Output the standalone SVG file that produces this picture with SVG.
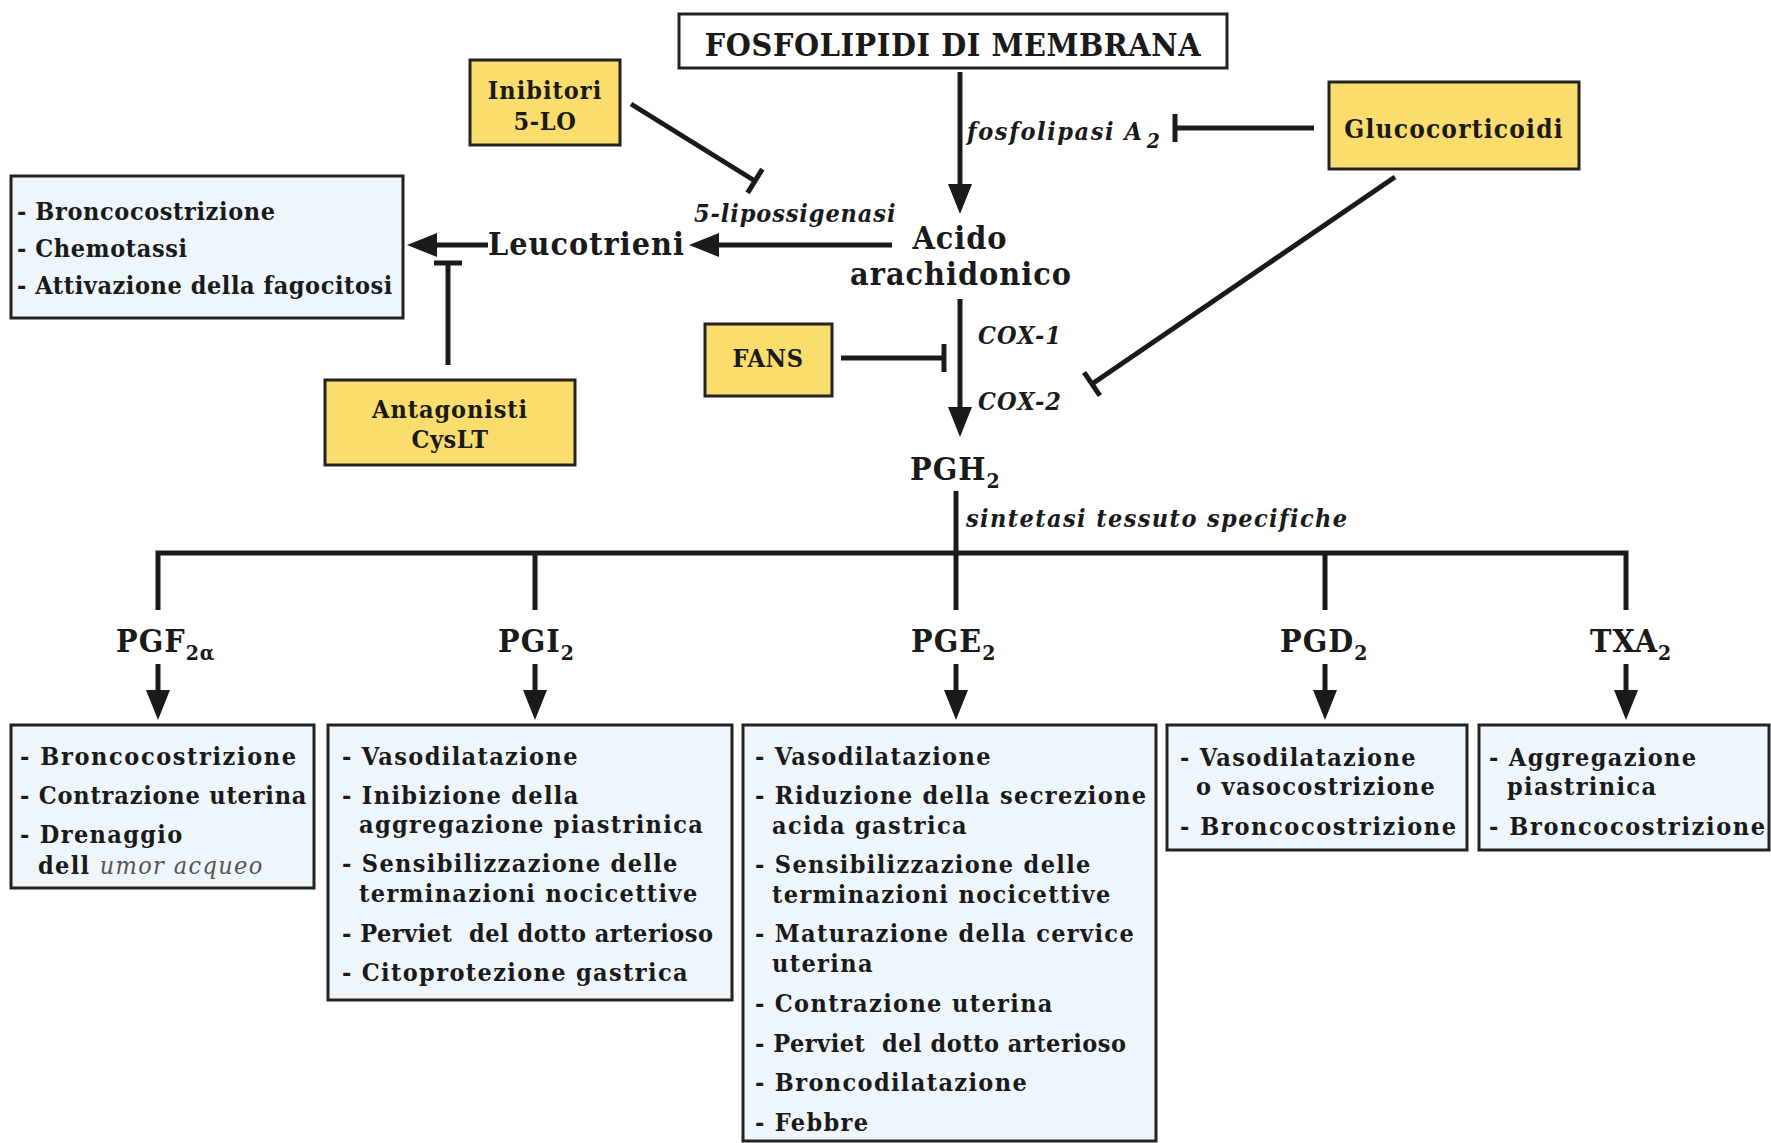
<svg xmlns="http://www.w3.org/2000/svg" width="1771" height="1143" viewBox="0 0 1771 1143">
<style>
.bx{fill:#eef6fb;stroke:#222;stroke-width:3}
.yb{fill:#fadd6c;stroke:#222;stroke-width:3}
.wb{fill:#fff;stroke:#222;stroke-width:3}
text{font-family:"DejaVu Serif Condensed","DejaVu Serif","Liberation Serif",serif;font-weight:bold;fill:#1a1a1a}
.it{font-size:25px;letter-spacing:1.35px}
.big{font-size:32px;letter-spacing:1px}
.nm{font-size:25px;letter-spacing:0.6px}
.lab{font-style:italic;font-size:25px;letter-spacing:1.1px}
.sub{font-size:21px}
.um{font-style:italic;font-weight:normal;fill:#555}
.pv{letter-spacing:0.5px}
.c{stroke:#1a1a1a;stroke-width:5;fill:none}
</style>
<defs>
<marker id="ar" markerUnits="userSpaceOnUse" viewBox="0 -12 30 24" markerWidth="30" markerHeight="24" refX="1" refY="0" orient="auto"><path d="M0,-12 L30,0 L0,12 z" fill="#1a1a1a"/></marker>
<marker id="tee" markerUnits="userSpaceOnUse" viewBox="-5 -17 10 34" markerWidth="10" markerHeight="34" refX="0" refY="0" orient="auto"><rect x="-2.5" y="-14" width="5" height="28" fill="#1a1a1a"/></marker>
</defs>
<rect width="1771" height="1143" fill="#fff"/>

<g id="connectors">
<line class="c" x1="960" y1="72" x2="960" y2="185" marker-end="url(#ar)"/>
<line class="c" x1="892" y1="245" x2="718" y2="245" marker-end="url(#ar)"/>
<line class="c" x1="488" y1="245" x2="436" y2="245" marker-end="url(#ar)"/>
<line class="c" x1="960" y1="299" x2="960" y2="408" marker-end="url(#ar)"/>
<line class="c" x1="1314" y1="128" x2="1175" y2="128" marker-end="url(#tee)"/>
<line class="c" x1="1395" y1="177" x2="1092" y2="384" marker-end="url(#tee)"/>
<line class="c" x1="841" y1="358" x2="944" y2="358" marker-end="url(#tee)"/>
<line class="c" x1="631" y1="104" x2="755" y2="181" marker-end="url(#tee)"/>
<line class="c" x1="448" y1="365" x2="448" y2="263" marker-end="url(#tee)"/>
<line class="c" x1="956" y1="491" x2="956" y2="610"/>
<path class="c" d="M158,610 V553 H1626 V610"/>
<line class="c" x1="535" y1="553" x2="535" y2="610"/>
<line class="c" x1="1325" y1="553" x2="1325" y2="610"/>
<line class="c" x1="158" y1="664" x2="158" y2="691" marker-end="url(#ar)"/>
<line class="c" x1="535" y1="664" x2="535" y2="691" marker-end="url(#ar)"/>
<line class="c" x1="956" y1="664" x2="956" y2="691" marker-end="url(#ar)"/>
<line class="c" x1="1325" y1="664" x2="1325" y2="691" marker-end="url(#ar)"/>
<line class="c" x1="1626" y1="664" x2="1626" y2="691" marker-end="url(#ar)"/>
<text class="lab" x="967" y="140" style="letter-spacing:1.6px">fosfolipasi A<tspan class="sub" dx="3" dy="8">2</tspan></text>
<text class="lab" x="694" y="222" style="letter-spacing:0.9px">5-lipossigenasi</text>
<text class="lab" x="978" y="344">COX-1</text>
<text class="lab" x="978" y="410">COX-2</text>
<text class="lab" x="966" y="527" style="letter-spacing:1.4px">sintetasi tessuto specifiche</text>
</g>

<g id="fosfolipidi">
<rect class="wb" x="679" y="14" width="548" height="54"/>
<text x="953" y="56" text-anchor="middle" style="font-size:32px;letter-spacing:0.6px">FOSFOLIPIDI DI MEMBRANA</text>
</g>
<g id="inibitori">
<rect class="yb" x="470" y="60" width="150" height="85"/>
<text class="nm" x="545" y="99" text-anchor="middle" style="letter-spacing:1px">Inibitori</text>
<text class="nm" x="545" y="130" text-anchor="middle">5-LO</text>
</g>
<g id="glucocorticoidi">
<rect class="yb" x="1329" y="82" width="250" height="87"/>
<text class="nm" x="1454" y="138" text-anchor="middle" style="font-size:26px;letter-spacing:1.2px">Glucocorticoidi</text>
</g>
<g id="acido">
<text class="big" x="960" y="249" text-anchor="middle">Acido</text>
<text class="big" x="961" y="285" text-anchor="middle">arachidonico</text>
</g>
<g id="leucotrieni">
<text class="big" x="488" y="255">Leucotrieni</text>
</g>
<g id="leuco-effetti">
<rect class="bx" x="11" y="176" width="392" height="142"/>
<text class="it" x="17" y="220" style="letter-spacing:0.6px">- Broncocostrizione</text>
<text class="it" x="17" y="257" style="letter-spacing:0.6px">- Chemotassi</text>
<text class="it" x="17" y="294" style="letter-spacing:0.55px">- Attivazione della fagocitosi</text>
</g>
<g id="antagonisti">
<rect class="yb" x="325" y="380" width="250" height="85"/>
<text class="nm" x="450" y="418" text-anchor="middle" style="letter-spacing:0.9px">Antagonisti</text>
<text class="nm" x="450" y="448" text-anchor="middle">CysLT</text>
</g>
<g id="fans">
<rect class="yb" x="705" y="324" width="127" height="72"/>
<text class="nm" x="768" y="367" text-anchor="middle">FANS</text>
</g>
<g id="pgh2">
<text class="big" x="910" y="480">PGH<tspan class="sub" dy="8">2</tspan></text>
</g>

<g id="pgf2a">
<text class="big" x="116" y="652">PGF<tspan class="sub" dy="8">2α</tspan></text>
</g>
<g id="pgi2">
<text class="big" x="498" y="652">PGI<tspan class="sub" dy="8">2</tspan></text>
</g>
<g id="pge2">
<text class="big" x="911" y="652">PGE<tspan class="sub" dy="8">2</tspan></text>
</g>
<g id="pgd2">
<text class="big" x="1280" y="652">PGD<tspan class="sub" dy="8">2</tspan></text>
</g>
<g id="txa2">
<text class="big" x="1590" y="652">TXA<tspan class="sub" dy="8">2</tspan></text>
</g>

<g id="pgf2a-effetti">
<rect class="bx" x="11" y="725" width="303" height="163"/>
<text class="it" x="20" y="765" style="letter-spacing:1.6px">- Broncocostrizione</text>
<text class="it" x="20" y="804" style="letter-spacing:0.8px">- Contrazione uterina</text>
<text class="it" x="20" y="843">- Drenaggio</text>
<text class="it" x="38" y="874">dell <tspan class="um">umor acqueo</tspan></text>
</g>
<g id="pgi2-effetti">
<rect class="bx" x="328" y="725" width="404" height="275"/>
<text class="it" x="342" y="765">- Vasodilatazione</text>
<text class="it" x="342" y="804">- Inibizione della</text>
<text class="it" x="359" y="833">aggregazione piastrinica</text>
<text class="it" x="342" y="872">- Sensibilizzazione delle</text>
<text class="it" x="359" y="902">terminazioni nocicettive</text>
<text class="it pv" x="342" y="942" xml:space="preserve">- Perviet  del dotto arterioso</text>
<text class="it" x="342" y="981">- Citoprotezione gastrica</text>
</g>
<g id="pge2-effetti">
<rect class="bx" x="743" y="725" width="413" height="416"/>
<text class="it" x="755" y="765">- Vasodilatazione</text>
<text class="it" x="755" y="804">- Riduzione della secrezione</text>
<text class="it" x="772" y="834">acida gastrica</text>
<text class="it" x="755" y="873">- Sensibilizzazione delle</text>
<text class="it" x="772" y="903">terminazioni nocicettive</text>
<text class="it" x="755" y="942">- Maturazione della cervice</text>
<text class="it" x="772" y="972">uterina</text>
<text class="it" x="755" y="1012">- Contrazione uterina</text>
<text class="it pv" x="755" y="1052" xml:space="preserve">- Perviet  del dotto arterioso</text>
<text class="it" x="755" y="1091">- Broncodilatazione</text>
<text class="it" x="755" y="1131">- Febbre</text>
</g>
<g id="pgd2-effetti">
<rect class="bx" x="1167" y="725" width="300" height="125"/>
<text class="it" x="1180" y="766">- Vasodilatazione</text>
<text class="it" x="1196" y="795">o vasocostrizione</text>
<text class="it" x="1180" y="835" style="letter-spacing:1.6px">- Broncocostrizione</text>
</g>
<g id="txa2-effetti">
<rect class="bx" x="1479" y="725" width="290" height="125"/>
<text class="it" x="1489" y="766">- Aggregazione</text>
<text class="it" x="1507" y="795">piastrinica</text>
<text class="it" x="1489" y="835" style="letter-spacing:1.6px">- Broncocostrizione</text>
</g>
</svg>
